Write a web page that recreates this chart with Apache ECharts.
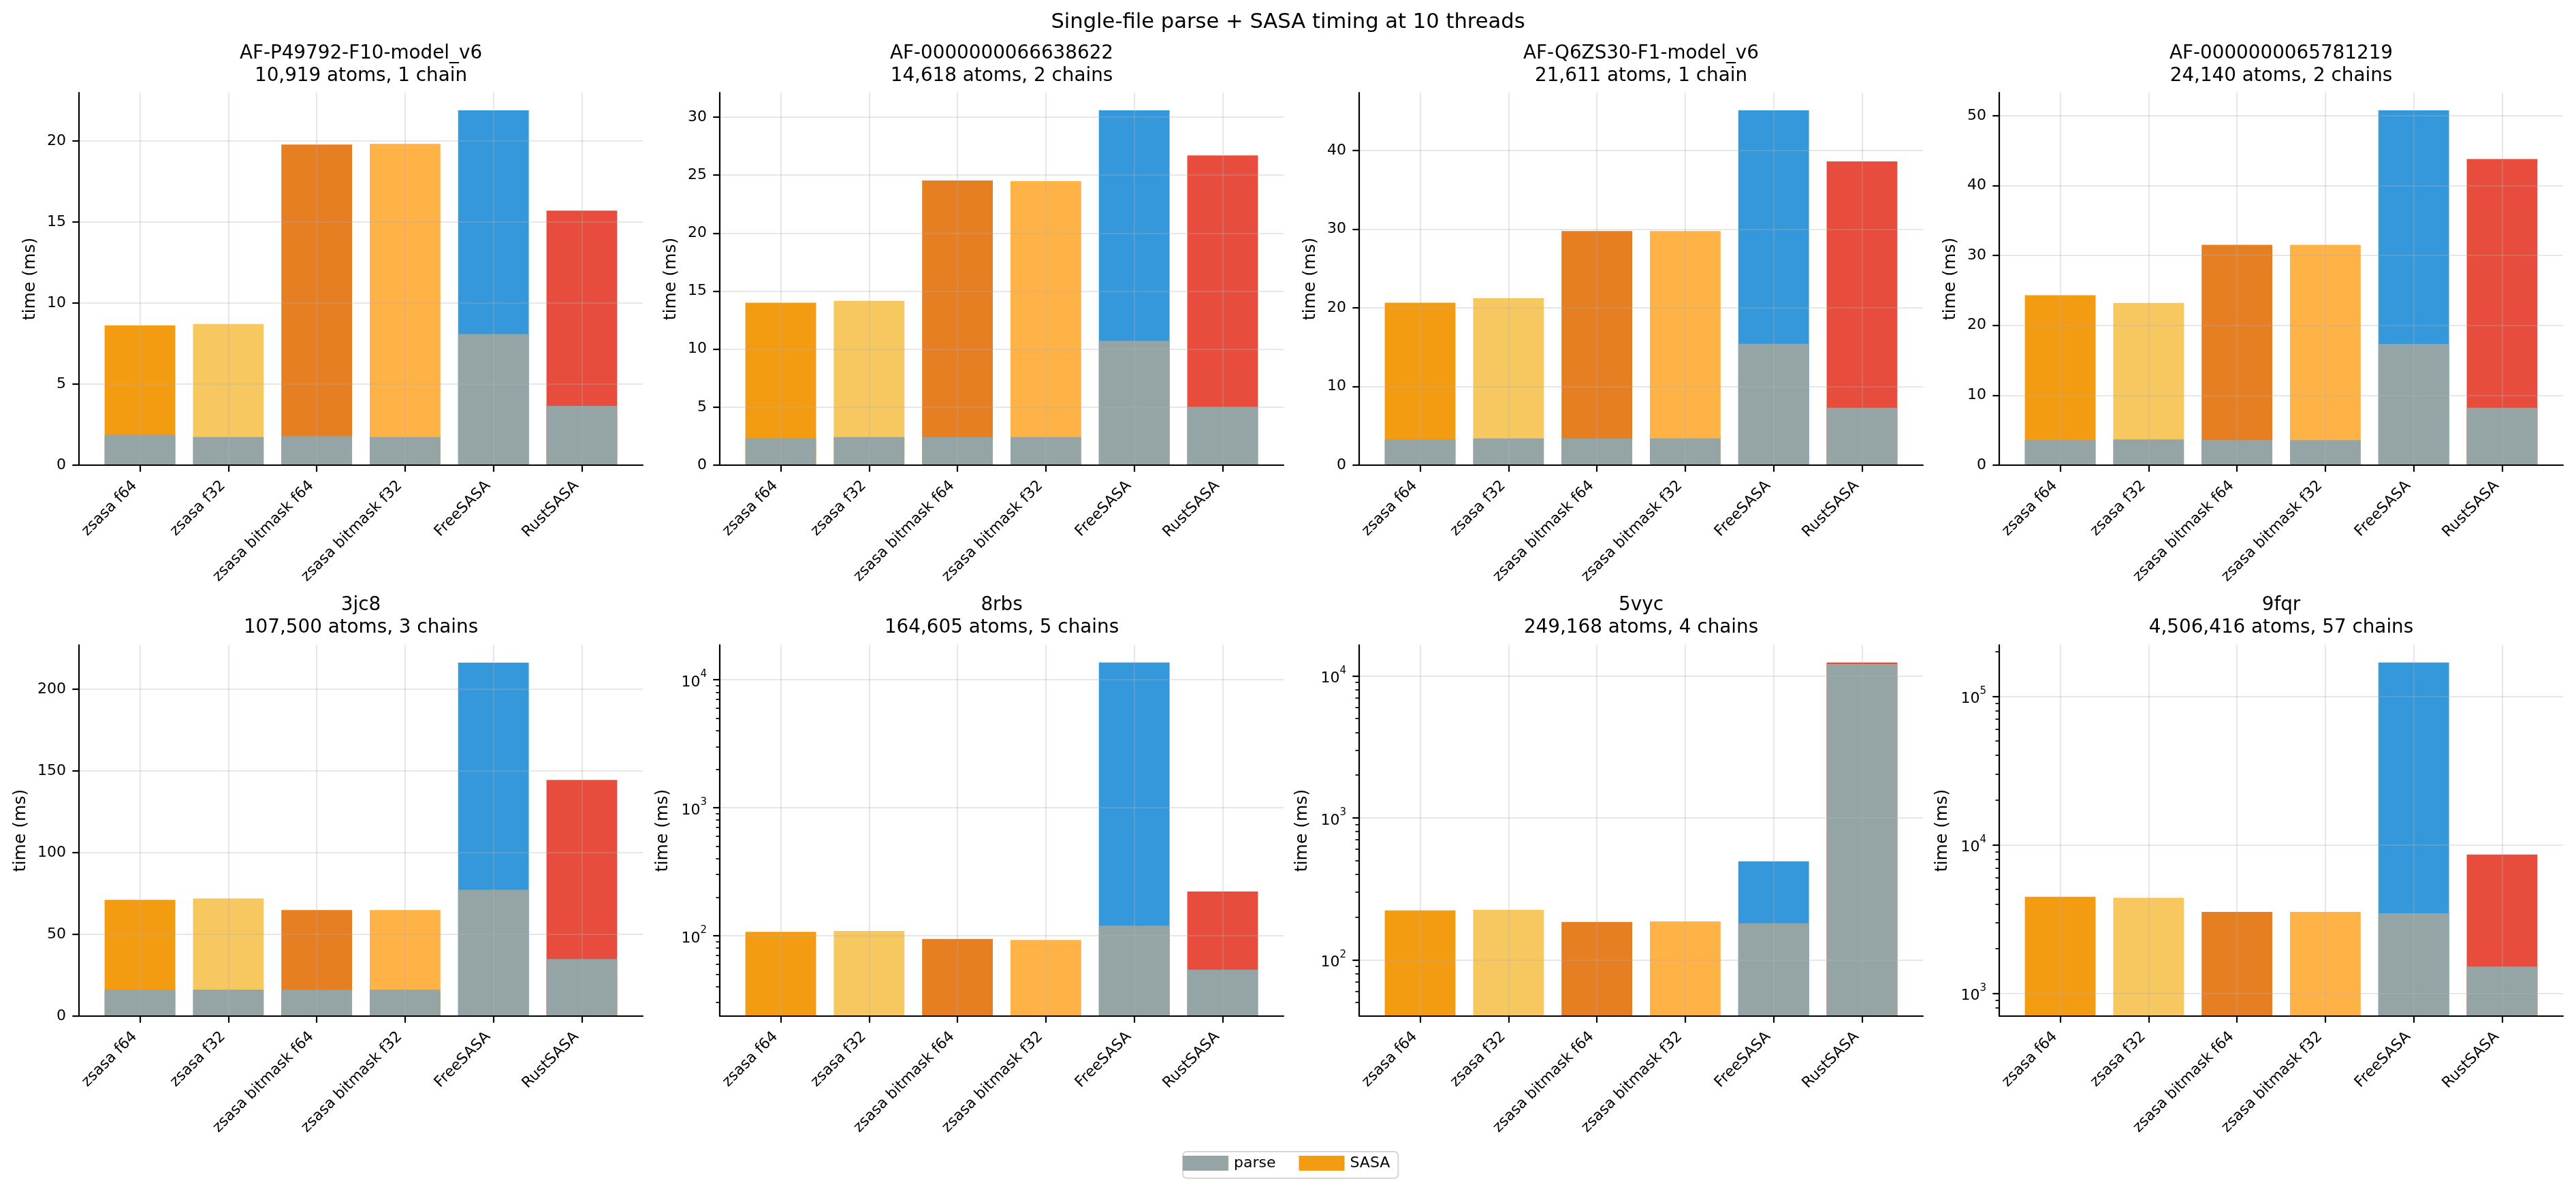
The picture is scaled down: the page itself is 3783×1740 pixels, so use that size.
<!DOCTYPE html>
<html><head><meta charset="utf-8">
<script src="https://cdn.jsdelivr.net/npm/echarts@6/dist/echarts.min.js"></script>
<style>html,body{margin:0;padding:0;background:#fff}#c{width:3783px;height:1740px}</style>
</head><body><div id="c"></div>
<script>
// ---------- data ----------
const tools = ['zsasa f64', 'zsasa f32', 'zsasa bitmask f64', 'zsasa bitmask f32', 'FreeSASA', 'RustSASA'];
const structures = ['AF-P49792-F10-model_v6', 'AF-0000000066638622', 'AF-Q6ZS30-F1-model_v6', 'AF-0000000065781219', '3jc8', '8rbs', '5vyc', '9fqr'];
const structureInfo = ['10,919 atoms, 1 chain', '14,618 atoms, 2 chains', '21,611 atoms, 1 chain', '24,140 atoms, 2 chains', '107,500 atoms, 3 chains', '164,605 atoms, 5 chains', '249,168 atoms, 4 chains', '4,506,416 atoms, 57 chains'];

// parse and SASA times (ms), one value per tool
const parse1 = [1.87, 1.73, 1.79, 1.73, 8.09, 3.66];
const sasa1  = [6.76, 6.98, 18.00, 18.10, 13.81, 12.05];
const parse2 = [2.34, 2.42, 2.42, 2.42, 10.71, 5.01];
const sasa2  = [11.66, 11.75, 22.12, 22.07, 19.88, 21.69];
const parse3 = [3.27, 3.39, 3.39, 3.39, 15.43, 7.30];
const sasa3  = [17.38, 17.86, 26.38, 26.38, 29.69, 31.33];
const parse4 = [3.59, 3.68, 3.59, 3.59, 17.35, 8.21];
const sasa4  = [20.72, 19.55, 27.93, 27.93, 33.42, 35.60];
const parse5 = [16.1, 16.1, 16.1, 16.1, 77.3, 34.9];
const sasa5  = [55.1, 55.9, 48.8, 48.8, 139.0, 109.6];
const parse6 = [22, 22, 22, 22, 119.7, 54.2];
const sasa6  = [85.0, 86.8, 72.1, 70.5, 13520, 167.1];
const parse7 = [38, 38, 38, 38, 181, 12120];
const sasa7  = [184.9, 187.2, 146.8, 148.6, 313.3, 310];
const parse8 = [690, 690, 690, 690, 3458, 1517];
const sasa8  = [3783, 3716, 2850, 2850, 165342, 7093];

// y tick labels per panel
const yTicks1 = [0, 5, 10, 15, 20];
const yTicks2 = [0, 5, 10, 15, 20, 25, 30];
const yTicks3 = [0, 10, 20, 30, 40];
const yTicks4 = [0, 10, 20, 30, 40, 50];
const yTicks5 = [0, 50, 100, 150, 200];
const yTicks6 = [100, 1000, 10000];
const yTicks7 = [100, 1000, 10000];
const yTicks8 = [1000, 10000, 100000];

// ---------- layout / style ----------
const parseAll = [parse1, parse2, parse3, parse4, parse5, parse6, parse7, parse8];
const sasaAll = [sasa1, sasa2, sasa3, sasa4, sasa5, sasa6, sasa7, sasa8];
const yTicksAll = [yTicks1, yTicks2, yTicks3, yTicks4, yTicks5, yTicks6, yTicks7, yTicks8];
const isLog = [false, false, false, false, false, true, true, true];
const logRange = {5: [23.5, 18700], 6: [40.2, 16500], 7: [703, 221700]};
const nameGaps = [59, 59, 59, 59, 73, 71, 71, 71];

const toolColors = ['#f39c12', '#f6c85f', '#e67e22', '#ffb347', '#3498db', '#e74c3c'];
const parseColor = '#95a5a6';
const LEFTS = [116, 1057, 1996, 2936];
const TOPS = [136, 947];
const HEIGHTS = [547, 545];
const W = 828;
const XMIN = -0.69, XMAX = 5.69;
const barPx = 0.8 * W / (XMAX - XMIN);
const FONT = 'DejaVu Sans';
const gridColor = 'rgba(176,176,176,0.3)';
const LW = 2.2;

const grids = [], xAxes = [], yAxes = [], series = [], titles = [];
titles.push({
  text: 'Single-file parse + SASA timing at 10 threads',
  left: 1891.5, top: 15, textAlign: 'center', padding: 0,
  textStyle: {fontFamily: FONT, fontSize: 30.6, fontWeight: 'normal', color: '#000', lineHeight: 36}
});

const xIdx = tools.map((_, i) => i);

for (let p = 0; p < 8; p++) {
  const row = Math.floor(p / 4), col = p % 4;
  const left = LEFTS[col], top = TOPS[row], h = HEIGHTS[row];
  grids.push({left: left, top: top, width: W, height: h, outerBoundsMode: 'none', containLabel: false});
  titles.push({
    text: structures[p] + '\n' + structureInfo[p],
    left: left + W / 2, top: row === 0 ? 62.5 : 872, textAlign: 'center', padding: 0,
    textStyle: {fontFamily: FONT, fontSize: 27.8, fontWeight: 'normal', color: '#000', lineHeight: 33}
  });
  xAxes.push({
    gridIndex: p, type: 'value', min: XMIN, max: XMAX, z: 3, position: 'bottom',
    axisLine: {show: true, onZero: false, lineStyle: {color: '#000', width: LW}},
    axisTick: {show: true, customValues: xIdx, length: 9.7, lineStyle: {color: '#000', width: LW}},
    axisLabel: {show: true, customValues: xIdx, formatter: v => tools[Math.round(v)], rotate: 45,
      fontFamily: FONT, fontSize: 22, color: '#000', margin: 19, padding: [0, 11, 0, 0]},
    splitLine: {show: true, customValues: xIdx, lineStyle: {color: gridColor, width: LW}}
  });
  const parse = parseAll[p], sasa = sasaAll[p];
  const totals = parse.map((v, i) => v + sasa[i]);
  const ticks = yTicksAll[p];
  const yBase = {
    gridIndex: p, z: 3, position: 'left',
    name: 'time (ms)', nameLocation: 'middle', nameGap: nameGaps[p], nameMoveOverlap: false,
    nameTextStyle: {fontFamily: FONT, fontSize: 25, color: '#000'},
    axisLine: {show: true, onZero: false, lineStyle: {color: '#000', width: LW}},
    axisTick: {show: true, customValues: ticks, length: 9.7, lineStyle: {color: '#000', width: LW}},
    splitLine: {show: true, customValues: ticks, lineStyle: {color: gridColor, width: LW}}
  };
  let mainY;
  if (isLog[p]) {
    const [lo, hi] = logRange[p];
    mainY = Object.assign(yBase, {
      type: 'log', logBase: 10, min: lo, max: hi,
      axisLabel: {show: true, customValues: ticks, margin: 19,
        formatter: v => '{b|10}{s|' + Math.round(Math.log10(v)) + '}',
        rich: {b: {fontFamily: FONT, fontSize: 22, color: '#000', lineHeight: 30, verticalAlign: 'bottom'},
               s: {fontFamily: FONT, fontSize: 15, color: '#000', lineHeight: 30, verticalAlign: 'top'}}}
    });
    yAxes.push(mainY);
    const minors = [];
    for (let k = Math.floor(Math.log10(lo)); k <= Math.ceil(Math.log10(hi)); k++) {
      for (let m = 2; m <= 9; m++) { const v = m * Math.pow(10, k); if (v >= lo && v <= hi) minors.push(v); }
    }
    yAxes.push({
      gridIndex: p, type: 'log', logBase: 10, min: lo, max: hi, position: 'left', z: 3,
      axisLine: {show: false, onZero: false}, axisLabel: {show: false}, splitLine: {show: false},
      axisTick: {show: true, customValues: minors, length: 5.6, lineStyle: {color: '#000', width: 1.7}}
    });
  } else {
    mainY = Object.assign(yBase, {
      type: 'value', min: 0, max: 1.05 * Math.max(...totals),
      axisLabel: {show: true, customValues: ticks, margin: 19, fontFamily: FONT, fontSize: 22, color: '#000'}
    });
    yAxes.push(mainY);
  }
  const yIndex = yAxes.indexOf(mainY);
  series.push({
    name: 'SASA', type: 'bar', xAxisIndex: p, yAxisIndex: yIndex, barWidth: barPx, barGap: '-100%', clip: true,
    itemStyle: {color: toolColors[0]}, emphasis: {disabled: true},
    data: totals.map((v, i) => ({value: [i, v], itemStyle: {color: toolColors[i]}}))
  });
  series.push({
    name: 'parse', type: 'bar', xAxisIndex: p, yAxisIndex: yIndex, barWidth: barPx, barGap: '-100%', clip: true,
    itemStyle: {color: parseColor}, emphasis: {disabled: true},
    data: parse.map((v, i) => [i, v])
  });
}

const chart = echarts.init(document.getElementById('c'), null, {renderer: 'canvas'});
chart.setOption({
  animation: false,
  backgroundColor: '#fff',
  textStyle: {fontFamily: FONT},
  title: titles,
  legend: {
    data: ['parse', 'SASA'], left: 1737, top: 1691, orient: 'horizontal',
    itemWidth: 67, itemHeight: 22, itemGap: 34, icon: 'rect',
    padding: [6, 12, 11, 0], borderColor: 'rgba(204,204,204,0.8)', borderWidth: 2, borderRadius: 6,
    textStyle: {fontFamily: FONT, fontSize: 22, color: '#000', padding: [0, 0, 0, 3]},
    selectedMode: false
  },
  grid: grids, xAxis: xAxes, yAxis: yAxes, series: series
});
</script></body></html>
